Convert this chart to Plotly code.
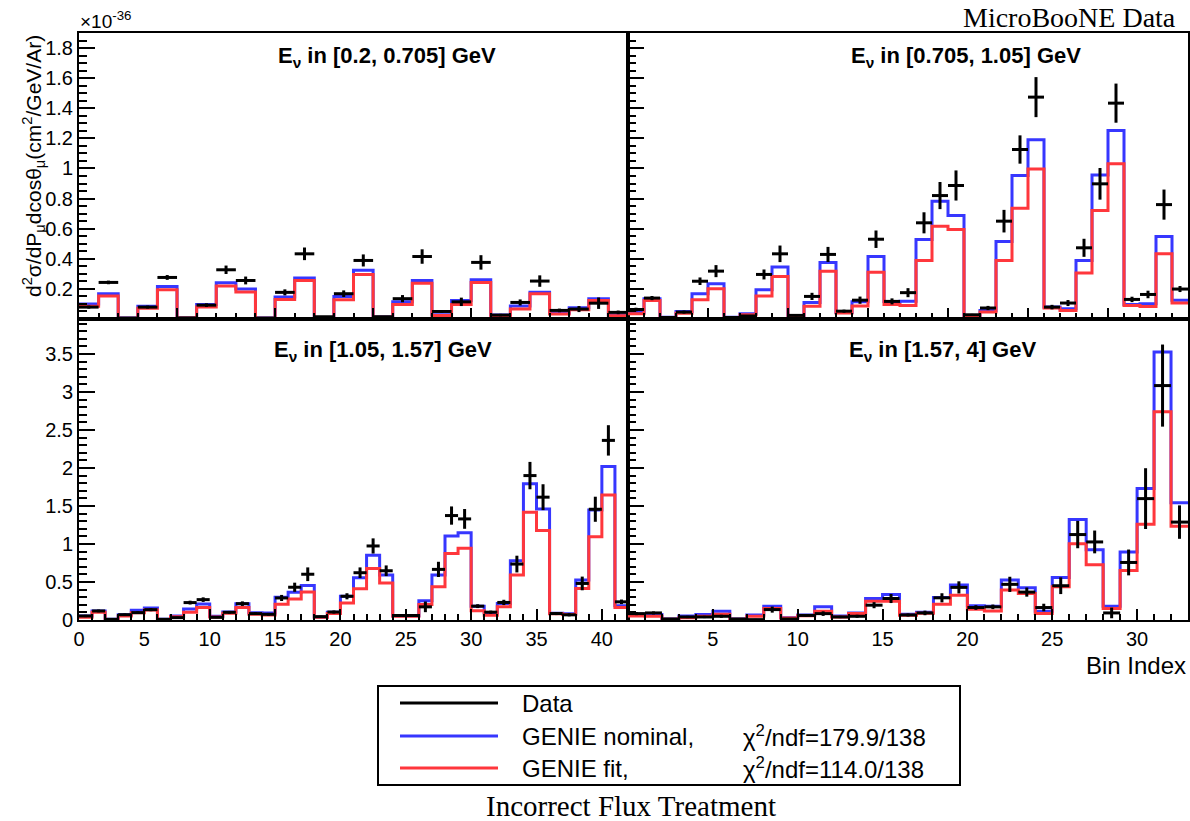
import numpy as np
import plotly.graph_objects as go

# ---- cross-section values, units of 1e-36 cm^2/GeV/Ar, one entry per bin ----
# E_nu in [0.2, 0.705] GeV  (28 bins)
nominal_tl = [0.100, 0.168, 0.006, 0.084, 0.216, 0.007, 0.097, 0.240, 0.199, 0.006, 0.146, 0.272, 0.008, 0.150,
              0.324, 0.014, 0.115, 0.256, 0.028, 0.123, 0.260, 0.026, 0.086, 0.177, 0.040, 0.074, 0.134, 0.026]
fit_tl = [0.084, 0.152, 0.005, 0.072, 0.194, 0.006, 0.079, 0.219, 0.179, 0.005, 0.130, 0.255, 0.007, 0.128,
          0.295, 0.012, 0.097, 0.238, 0.024, 0.097, 0.243, 0.022, 0.066, 0.168, 0.033, 0.062, 0.123, 0.022]
data_tl = [0.079, 0.243, 0.006, 0.079, 0.276, 0.007, 0.092, 0.327, 0.256, 0.006, 0.177, 0.433, 0.015, 0.168,
           0.389, 0.015, 0.135, 0.415, 0.050, 0.114, 0.376, 0.026, 0.110, 0.252, 0.057, 0.066, 0.105, 0.044]
err_tl = [0.010, 0.012, 0.003, 0.010, 0.016, 0.003, 0.012, 0.028, 0.026, 0.003, 0.020, 0.042, 0.005, 0.022,
          0.040, 0.005, 0.024, 0.048, 0.010, 0.028, 0.048, 0.008, 0.020, 0.038, 0.012, 0.020, 0.038, 0.012]

# E_nu in [0.705, 1.05] GeV  (35 bins)
nominal_tr = [0.045, 0.134, 0.012, 0.050, 0.167, 0.234, 0.012, 0.035, 0.194, 0.345, 0.018, 0.110, 0.376, 0.044,
              0.115, 0.415, 0.117, 0.118, 0.528, 0.783, 0.688, 0.020, 0.057, 0.515, 0.953, 1.190, 0.079, 0.068,
              0.389, 0.957, 1.253, 0.097, 0.101, 0.548, 0.124]
fit_tr = [0.035, 0.123, 0.010, 0.039, 0.128, 0.201, 0.010, 0.028, 0.152, 0.283, 0.015, 0.084, 0.318, 0.040,
          0.086, 0.310, 0.097, 0.090, 0.389, 0.617, 0.595, 0.017, 0.046, 0.389, 0.736, 0.997, 0.073, 0.057,
          0.305, 0.721, 1.031, 0.090, 0.083, 0.433, 0.106]
data_tr = [0.063, 0.139, 0.010, 0.046, 0.251, 0.318, 0.010, 0.020, 0.296, 0.433, 0.024, 0.150, 0.429, 0.052,
           0.125, 0.530, 0.117, 0.175, 0.639, 0.820, 0.887, 0.028, 0.073, 0.650, 1.126, 1.474, 0.079, 0.106,
           0.473, 0.898, 1.434, 0.130, 0.163, 0.760, 0.199]
err_tr = [0.012, 0.014, 0.003, 0.010, 0.025, 0.040, 0.003, 0.006, 0.033, 0.055, 0.006, 0.024, 0.050, 0.010,
          0.024, 0.058, 0.020, 0.030, 0.070, 0.090, 0.100, 0.006, 0.014, 0.075, 0.094, 0.133, 0.015, 0.020,
          0.060, 0.105, 0.130, 0.018, 0.025, 0.100, 0.020]

# E_nu in [1.05, 1.57] GeV  (42 bins)
nominal_bl = [0.053, 0.119, 0.009, 0.070, 0.127, 0.158, 0.009, 0.053, 0.145, 0.211, 0.048, 0.105, 0.215, 0.097,
              0.092, 0.299, 0.365, 0.453, 0.040, 0.101, 0.312, 0.555, 0.851, 0.591, 0.057, 0.057, 0.253, 0.591,
              1.105, 1.149, 0.182, 0.094, 0.217, 0.780, 1.791, 1.460, 0.090, 0.081, 0.525, 1.448, 2.020, 0.186]
fit_bl = [0.035, 0.101, 0.008, 0.053, 0.097, 0.132, 0.008, 0.044, 0.101, 0.163, 0.040, 0.088, 0.163, 0.075,
          0.066, 0.207, 0.277, 0.369, 0.036, 0.084, 0.224, 0.410, 0.679, 0.486, 0.050, 0.050, 0.204, 0.437,
          0.876, 0.943, 0.121, 0.063, 0.173, 0.591, 1.417, 1.176, 0.081, 0.072, 0.415, 1.096, 1.646, 0.165]
data_bl = [0.053, 0.119, 0.009, 0.070, 0.097, 0.136, 0.009, 0.031, 0.229, 0.268, 0.035, 0.101, 0.215, 0.084,
           0.075, 0.290, 0.431, 0.602, 0.044, 0.105, 0.312, 0.622, 0.974, 0.648, 0.059, 0.059, 0.173, 0.666,
           1.374, 1.330, 0.182, 0.103, 0.231, 0.736, 1.900, 1.616, 0.085, 0.068, 0.481, 1.457, 2.363, 0.239]
err_bl = [0.015, 0.018, 0.004, 0.015, 0.018, 0.020, 0.004, 0.012, 0.025, 0.030, 0.010, 0.018, 0.030, 0.018,
          0.018, 0.040, 0.060, 0.090, 0.012, 0.020, 0.040, 0.070, 0.100, 0.070, 0.012, 0.012, 0.070, 0.100,
          0.120, 0.130, 0.025, 0.020, 0.035, 0.110, 0.180, 0.170, 0.020, 0.020, 0.090, 0.165, 0.200, 0.030]

# E_nu in [1.57, 4] GeV  (33 bins)
nominal_br = [0.075, 0.071, 0.013, 0.053, 0.071, 0.115, 0.013, 0.066, 0.181, 0.031, 0.066, 0.173, 0.053, 0.093,
              0.283, 0.336, 0.075, 0.102, 0.296, 0.460, 0.186, 0.181, 0.527, 0.425, 0.115, 0.558, 1.323, 0.925,
              0.181, 0.894, 1.730, 3.527, 1.544]
fit_br = [0.053, 0.049, 0.010, 0.031, 0.049, 0.075, 0.010, 0.049, 0.150, 0.027, 0.057, 0.115, 0.040, 0.084,
          0.248, 0.248, 0.062, 0.088, 0.208, 0.327, 0.142, 0.119, 0.394, 0.350, 0.084, 0.438, 1.004, 0.726,
          0.150, 0.650, 1.261, 2.739, 1.235]
data_br = [0.084, 0.093, 0.013, 0.040, 0.040, 0.049, 0.013, 0.005, 0.137, 0.013, 0.060, 0.084, 0.040, 0.049,
           0.195, 0.283, 0.066, 0.093, 0.292, 0.429, 0.164, 0.173, 0.469, 0.367, 0.164, 0.451, 1.124, 1.027,
           0.093, 0.757, 1.597, 3.084, 1.288]
err_br = [0.020, 0.020, 0.005, 0.015, 0.015, 0.020, 0.005, 0.010, 0.040, 0.008, 0.015, 0.030, 0.015, 0.020,
          0.040, 0.060, 0.020, 0.030, 0.060, 0.080, 0.030, 0.030, 0.100, 0.060, 0.050, 0.110, 0.180, 0.150,
          0.070, 0.170, 0.400, 0.540, 0.220]

panel_titles = ["E<sub>ν</sub> in [0.2, 0.705] GeV", "E<sub>ν</sub> in [0.705, 1.05] GeV",
                "E<sub>ν</sub> in [1.05, 1.57] GeV", "E<sub>ν</sub> in [1.57, 4] GeV"]
top_ytick_vals = [0.2, 0.4, 0.6, 0.8, 1.0, 1.2, 1.4, 1.6, 1.8]
top_ytick_text = ["0.2", "0.4", "0.6", "0.8", "1", "1.2", "1.4", "1.6", "1.8"]
bot_ytick_vals = [0, 0.5, 1.0, 1.5, 2.0, 2.5, 3.0, 3.5]
bot_ytick_text = ["0", "0.5", "1", "1.5", "2", "2.5", "3", "3.5"]
legend_labels = ["Data", "GENIE nominal,", "GENIE fit,"]
chi2_labels = ["", "χ<sup>2</sup>/ndf=179.9/138", "χ<sup>2</sup>/ndf=114.0/138"]

BLUE = "rgb(55,55,255)"
RED = "rgb(255,55,60)"
W, H = 1190, 821
SANS = "Liberation Sans, Arial, sans-serif"
SERIF = "Liberation Serif, Times New Roman, serif"


def px(x):
    return x / W


def py(y):
    return 1 - y / H


fig = go.Figure()

panels = [
    # (nominal, fit, data, err, xaxis id, yaxis id)
    (nominal_tl, fit_tl, data_tl, err_tl, "x", "y"),
    (nominal_tr, fit_tr, data_tr, err_tr, "x2", "y2"),
    (nominal_bl, fit_bl, data_bl, err_bl, "x3", "y3"),
    (nominal_br, fit_br, data_br, err_br, "x4", "y4"),
]

for nom, fit, dat, err, xa, ya in panels:
    n = len(nom)
    edges = np.arange(n + 1)
    centers = np.arange(n) + 0.5
    for vals, col in ((nom, BLUE), (fit, RED)):
        fig.add_trace(go.Scatter(
            x=edges, y=list(vals) + [vals[-1]], mode="lines", line_shape="hv",
            line=dict(color=col, width=3), xaxis=xa, yaxis=ya, showlegend=False,
            hoverinfo="skip"))
    fig.add_trace(go.Scatter(
        x=centers, y=dat, mode="markers", marker=dict(size=1, color="black"),
        error_y=dict(type="data", array=err, thickness=3, width=0, color="black"),
        error_x=dict(type="constant", value=0.5, thickness=3, width=0, color="black"),
        xaxis=xa, yaxis=ya, showlegend=False))

# panel geometry in pixels
xl0, xmid, xr1 = 79, 628, 1188
yt0, ymid, yb1 = 33, 319, 620

axis_common = dict(showline=True, linecolor="black", linewidth=2, mirror=True, ticks="inside",
                   tickcolor="black", tickwidth=1.5, showgrid=False, zeroline=False, automargin=False,
                   tickfont=dict(family=SANS, size=20, color="black"))


def xaxis(dom, n, labels, tickvals):
    return dict(axis_common, domain=dom, range=[0, n], tickmode="array", tickvals=tickvals,
                showticklabels=labels, ticklen=11,
                minor=dict(dtick=1, tick0=0, ticklen=6, ticks="inside", tickcolor="black", tickwidth=1.5))


def yaxis(dom, rng, vals, text, labels, minor_dt, anchor):
    return dict(axis_common, domain=dom, range=rng, tickmode="array", tickvals=vals, ticktext=text,
                showticklabels=labels, ticklen=16, anchor=anchor,
                minor=dict(dtick=minor_dt, tick0=0, ticklen=8, ticks="inside", tickcolor="black", tickwidth=1.5))


dom_xl = [px(xl0), px(xmid)]
dom_xr = [px(xmid), px(xr1)]
dom_yt = [py(ymid), py(yt0)]
dom_yb = [py(yb1), py(ymid)]

fig.update_layout(
    xaxis=dict(xaxis(dom_xl, 28, False, list(range(0, 29, 5))), anchor="y"),
    yaxis=yaxis(dom_yt, [0, 1.9], top_ytick_vals, top_ytick_text, True, 0.05, "x"),
    xaxis2=dict(xaxis(dom_xr, 35, False, list(range(0, 36, 5))), anchor="y2"),
    yaxis2=yaxis(dom_yt, [0, 1.9], top_ytick_vals, top_ytick_text, False, 0.05, "x2"),
    xaxis3=dict(xaxis(dom_xl, 42, True, list(range(0, 41, 5))), anchor="y3"),
    yaxis3=yaxis(dom_yb, [0, 3.96], bot_ytick_vals, bot_ytick_text, True, 0.1, "x3"),
    xaxis4=dict(xaxis(dom_xr, 33, True, list(range(5, 31, 5))), anchor="y4"),
    yaxis4=yaxis(dom_yb, [0, 3.96], bot_ytick_vals, bot_ytick_text, False, 0.1, "x4"),
)

ann = []
title_pos = [(387, 57), (966, 57), (383, 351), (942, 351)]
for t, (tx, ty) in zip(panel_titles, title_pos):
    ann.append(dict(x=px(tx), y=py(ty), xref="paper", yref="paper", text="<b>" + t + "</b>",
                    showarrow=False, xanchor="center", yanchor="middle",
                    font=dict(family=SANS, size=22, color="black")))

# axis titles and headers
ann += [
    dict(x=px(33), y=py(166), xref="paper", yref="paper", textangle=-90, showarrow=False,
         text="d<sup>2</sup>σ/dP<sub>μ</sub>dcosθ<sub>μ</sub>(cm<sup>2</sup>/GeV/Ar)",
         xanchor="center", yanchor="middle", font=dict(family=SANS, size=21, color="black")),
    dict(x=px(1188), y=py(665), xref="paper", yref="paper", text="Bin Index", showarrow=False,
         xanchor="right", yanchor="middle", font=dict(family=SANS, size=24, color="black")),
    dict(x=px(78), y=py(20), xref="paper", yref="paper", text="×10<sup>-36</sup>", showarrow=False,
         xanchor="left", yanchor="middle", font=dict(family=SANS, size=19, color="black")),
    dict(x=px(1178), y=py(18), xref="paper", yref="paper", text="MicroBooNE Data", showarrow=False,
         xanchor="right", yanchor="middle", font=dict(family=SERIF, size=28, color="black")),
    dict(x=px(631), y=py(806), xref="paper", yref="paper", text="Incorrect Flux Treatment",
         showarrow=False, xanchor="center", yanchor="middle",
         font=dict(family=SERIF, size=29, color="black")),
]

# legend box
shapes = [dict(type="rect", xref="paper", yref="paper", x0=px(378), x1=px(960), y0=py(785), y1=py(686),
               line=dict(color="black", width=2), fillcolor="white")]
rows_y = [703, 736, 768]
for lab, chi, col, ry in zip(legend_labels, chi2_labels, ["black", BLUE, RED], rows_y):
    shapes.append(dict(type="line", xref="paper", yref="paper", x0=px(400), x1=px(498),
                       y0=py(ry), y1=py(ry), line=dict(color=col, width=3)))
    ann.append(dict(x=px(520), y=py(ry), xref="paper", yref="paper", text=lab, showarrow=False,
                    xanchor="left", yanchor="middle", font=dict(family=SANS, size=24, color="black")))
    if chi:
        ann.append(dict(x=px(741), y=py(ry), xref="paper", yref="paper", text=chi, showarrow=False,
                        xanchor="left", yanchor="middle", font=dict(family=SANS, size=24, color="black")))

fig.update_layout(
    width=W, height=H, margin=dict(l=0, r=0, t=0, b=0),
    paper_bgcolor="white", plot_bgcolor="white",
    showlegend=False, annotations=ann, shapes=shapes,
)

fig.write_html("out.html")
